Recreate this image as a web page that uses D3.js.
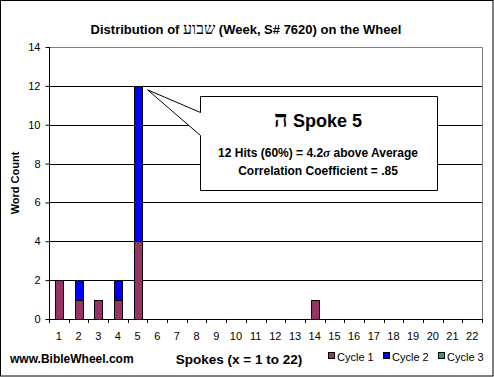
<!DOCTYPE html>
<html><head><meta charset="utf-8">
<script src="https://cdn.jsdelivr.net/npm/d3@7"></script>
<style>
body{margin:0;background:#fff;}
svg{display:block;font-family:Arial,"Liberation Sans",sans-serif;}
</style></head><body>
<svg id="c" width="494" height="377"></svg>
<script>
const spokes = d3.range(1, 23).map(String);
const cycle1 = [2,1,1,1,4,0,0,0,0,0,0,0,0,1,0,0,0,0,0,0,0,0];
const cycle2 = [0,1,0,1,8,0,0,0,0,0,0,0,0,0,0,0,0,0,0,0,0,0];
const cycle3 = [0,0,0,0,0,0,0,0,0,0,0,0,0,0,0,0,0,0,0,0,0,0];
const seriesNames = ["Cycle 1","Cycle 2","Cycle 3"];
const seriesColors = ["#993366","#0000FF","#339966"];
const yTicks = [0,2,4,6,8,10,12,14];

const svg = d3.select("#c");
const W = 494, H = 377;
const m = {l:49, r:482, t:47, b:319};

svg.append("rect").attr("x",0.5).attr("y",0.5).attr("width",W-1.5).attr("height",H-1.5)
  .attr("fill","#fff").attr("stroke","#000");

const x = d3.scaleBand().domain(spokes).range([m.l, m.r]);
const y = d3.scaleLinear().domain([0,14]).range([m.b, m.t]);

// gridlines
svg.append("g").selectAll("line").data(yTicks.filter(d=>d>0&&d<14)).join("line")
  .attr("x1",m.l).attr("x2",m.r).attr("y1",d=>Math.round(y(d))+0.5).attr("y2",d=>Math.round(y(d))+0.5)
  .attr("stroke","#000");
// plot border top/right gray
svg.append("path").attr("d",`M${m.l},${m.t+0.5}H${m.r+0.5}V${m.b}`).attr("fill","none").attr("stroke","#808080");

// stacked bars
const table = spokes.map((s,i)=>({spoke:s, c1:cycle1[i], c2:cycle2[i], c3:cycle3[i]}));
const stack = d3.stack().keys(["c1","c2","c3"])(table);
const bw = 8;
svg.append("g").selectAll("g").data(stack).join("g")
  .attr("fill",(d,i)=>seriesColors[i])
  .selectAll("rect").data(d=>d.filter(e=>e[1]-e[0]>0)).join("rect")
  .attr("x",d=>Math.round(x(d.data.spoke)+x.bandwidth()/2-bw/2)+0.5)
  .attr("width",bw)
  .attr("y",d=>Math.round(y(d[1]))+0.5)
  .attr("height",d=>Math.round(y(d[0]))-Math.round(y(d[1])))
  .attr("stroke","#000");

// axes
const yAxis = d3.axisLeft(y).tickValues(yTicks).tickSize(4).tickPadding(5);
const gy = svg.append("g").attr("transform",`translate(${m.l+0.5},0)`).call(yAxis);
gy.select(".domain").attr("d",`M0,${m.t}V${m.b+0.5}`);
gy.selectAll("text").attr("font-size",11).attr("font-family","Arial,'Liberation Sans',sans-serif").attr("fill","#000");

const xAxis = d3.axisBottom(x).tickSize(0).tickPadding(13);
const gx = svg.append("g").attr("transform",`translate(0,${m.b+0.5})`).call(xAxis);
gx.select(".domain").attr("d",`M${m.l},0H${m.r+0.5}`);
gx.selectAll("text").attr("font-size",11).attr("font-family","Arial,'Liberation Sans',sans-serif").attr("fill","#000");
// boundary ticks
const bounds = spokes.map(s=>x(s)).concat([m.r]);
svg.append("g").selectAll("line").data(bounds).join("line")
  .attr("x1",d=>Math.round(d)+0.5).attr("x2",d=>Math.round(d)+0.5)
  .attr("y1",m.b).attr("y2",m.b+4).attr("stroke","#000");

// title
const t = svg.append("text").attr("x",246).attr("y",34).attr("text-anchor","middle")
  .attr("font-size",13).attr("font-weight","bold");
t.append("tspan").text("Distribution of ");
t.append("tspan").attr("font-family","'Liberation Serif','DejaVu Serif',serif").attr("font-weight","normal").attr("font-size",16).text("שבוע");
t.append("tspan").text(" (Week, S# 7620) on the Wheel");

// y label
svg.append("text").attr("transform","translate(19,183) rotate(-90)").attr("text-anchor","middle")
  .attr("font-size",11).attr("font-weight","bold").text("Word Count");

// bottom texts
svg.append("text").attr("x",10).attr("y",363).attr("font-size",12).attr("font-weight","bold").text("www.BibleWheel.com");
svg.append("text").attr("x",239).attr("y",364).attr("text-anchor","middle").attr("font-size",13.5).attr("font-weight","bold").text("Spokes (x = 1 to 22)");

// legend
const lx = [328,383,438];
const lg = svg.append("g").selectAll("g").data(seriesNames).join("g")
  .attr("transform",(d,i)=>`translate(${lx[i]},0)`);
lg.append("rect").attr("x",0.5).attr("y",352.5).attr("width",6).attr("height",6)
  .attr("fill",(d,i)=>seriesColors[i]).attr("stroke","#000");
lg.append("text").attr("x",9).attr("y",361).attr("font-size",11).text(d=>d);

// callout
const tipX = x("5")+x.bandwidth()/2+10, tipY = y(12)+4;
const bx=200.5, by=96.5, bw2=237, bh=94;
svg.append("path")
  .attr("d",`M${bx},${by}H${bx+bw2}V${by+bh}H${bx}V135.5L${tipX},${tipY}L${bx},112.5Z`)
  .attr("fill","#fff").attr("stroke","#000");
const c1 = svg.append("text").attr("x",318).attr("y",127).attr("text-anchor","middle").attr("font-weight","bold");
c1.append("tspan").attr("font-family","'Liberation Serif','DejaVu Serif',serif").attr("font-size",24).text("ה");
c1.append("tspan").attr("font-size",18).text(" Spoke 5");
const c2 = svg.append("text").attr("x",318).attr("y",157).attr("text-anchor","middle").attr("font-weight","bold").attr("font-size",12);
c2.append("tspan").text("12 Hits (60%) = 4.2");
c2.append("tspan").attr("font-family","'Liberation Serif',serif").attr("font-style","italic").attr("font-size",13).text("σ");
c2.append("tspan").text(" above Average");
svg.append("text").attr("x",318).attr("y",175).attr("text-anchor","middle").attr("font-weight","bold").attr("font-size",12)
  .text("Correlation Coefficient = .85");
</script></body></html>
